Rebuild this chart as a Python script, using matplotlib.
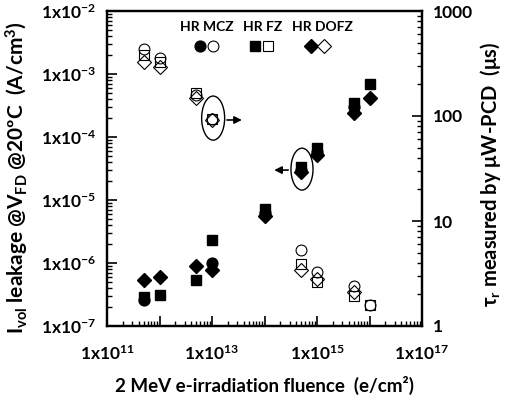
import numpy as np
import matplotlib
matplotlib.use('Agg')
import matplotlib.pyplot as plt
from matplotlib.patches import Ellipse
from matplotlib.ticker import FixedLocator, LogLocator, NullFormatter, FuncFormatter

plt.rcParams['font.family'] = ['Lato', 'DejaVu Sans']
plt.rcParams['font.weight'] = 'bold'
plt.rcParams['mathtext.fontset'] = 'custom'
plt.rcParams['mathtext.rm'] = 'Lato:bold'
plt.rcParams['mathtext.it'] = 'Lato:bold'
plt.rcParams['mathtext.bf'] = 'Lato:bold'

nan = np.nan
fluence = np.array([5e11, 1e12, 5e12, 1e13, 1e14, 5e14, 1e15, 5e15, 1e16])

# leakage current (filled symbols, left axis)
leak_mcz = np.array([2.6e-7, nan, nan, 1.0e-6, 6.2e-6, 3.0e-5, 5.8e-5, 3.0e-4, nan])
leak_fz = np.array([2.9e-7, 3.1e-7, 5.4e-7, 2.3e-6, 7.2e-6, 3.3e-5, 6.7e-5, 3.5e-4, 6.9e-4])
leak_dofz = np.array([5.4e-7, 6.0e-7, 8.9e-7, 7.7e-7, 5.6e-6, 2.8e-5, 5.2e-5, 2.4e-4, 4.2e-4])

# lifetime (open symbols, right axis)
tau_mcz = np.array([435, 357, 158, 94, nan, 5.3, 3.27, 2.4, 1.58])
tau_fz = np.array([381, 327, 166, 94, nan, 3.9, 2.62, 1.93, 1.58])
tau_dofz = np.array([327, 293, 148, 92, nan, 3.4, 2.8, 2.11, nan])

materials = ['HR MCZ', 'HR FZ', 'HR DOFZ']
markers = ['o', 's', 'D']

fig = plt.figure(figsize=(5.14, 4.01), dpi=100)
ax = fig.add_axes([107/514, 1-326/401, 315/514, 315/401])
ax2 = ax.twinx()

ms = 7.8
msd = 7
ax.plot(fluence, leak_mcz, 'o', color='k', ms=ms, zorder=3)
ax.plot(fluence, leak_fz, 's', color='k', ms=ms, zorder=3)
ax.plot(fluence, leak_dofz, 'D', color='k', ms=msd, zorder=3)
ax2.plot(fluence, tau_mcz, 'o', mfc='white', mec='k', mew=0.8, ms=ms, zorder=3)
ax2.plot(fluence, tau_fz, 's', mfc='none', mec='k', mew=0.8, ms=ms, zorder=3)
ax2.plot(fluence, tau_dofz, 'D', mfc='none', mec='k', mew=0.8, ms=msd, zorder=3)

ax.set_xscale('log')
ax.set_yscale('log')
ax2.set_yscale('log')
ax.set_xlim(1e11, 1e17)
ax.set_ylim(1e-7, 1e-2)
ax2.set_ylim(1, 1000)

def xfmt(v, pos):
    e = int(round(np.log10(v)))
    return '1x10$^{%d}$' % e if e % 2 == 1 else ''

def yfmt(v, pos):
    e = int(round(np.log10(v)))
    return '1x10$^{%d}$' % e

ax.xaxis.set_major_locator(FixedLocator([10.0**k for k in range(11, 18)]))
ax.xaxis.set_major_formatter(FuncFormatter(xfmt))
ax.xaxis.set_minor_locator(LogLocator(base=10, subs=np.arange(2, 10), numticks=20))
ax.xaxis.set_minor_formatter(NullFormatter())
ax.yaxis.set_major_locator(FixedLocator([10.0**k for k in range(-7, -1)]))
ax.yaxis.set_major_formatter(FuncFormatter(yfmt))
ax.yaxis.set_minor_locator(LogLocator(base=10, subs=np.arange(2, 10), numticks=20))
ax.yaxis.set_minor_formatter(NullFormatter())
ax2.yaxis.set_major_locator(FixedLocator([1, 10, 100, 1000]))
ax2.yaxis.set_major_formatter(FuncFormatter(lambda v, p: '%d' % v))
ax2.yaxis.set_minor_locator(LogLocator(base=10, subs=np.arange(2, 10), numticks=20))
ax2.yaxis.set_minor_formatter(NullFormatter())

for a in (ax, ax2):
    for s in a.spines.values():
        s.set_linewidth(1.6)
ax.tick_params(axis='both', which='major', direction='in', length=7, width=1.2,
               labelsize=12.5, top=False, right=False, pad=8)
ax.tick_params(axis='x', which='major', pad=13)
ax.tick_params(axis='both', which='minor', direction='in', length=3.5, width=1.0,
               top=False, right=False)
ax2.tick_params(axis='y', which='major', direction='in', length=7, width=1.2,
                labelsize=12.5, pad=8)
ax2.tick_params(axis='y', which='minor', direction='in', length=3.5, width=1.0)

ax.set_xlabel('2 MeV e-irradiation fluence  (e/cm²)', fontsize=13.5, fontweight='bold')
ax.xaxis.set_label_coords(0.5, -0.158)
ax.set_ylabel('I$_{vol}$ leakage @V$_{FD}$ @20ºC  (A/cm$^{3}$)', fontsize=15,
              fontweight='bold')
ax.yaxis.set_label_coords(-0.242, 0.47)
ax2.set_ylabel(r'$\tau_r$ measured by $\mu$W-PCD  ($\mu$s)', fontsize=14.5,
               fontweight='bold')
ax2.yaxis.set_label_coords(1.178, 0.48)

# material legend
for name, tx in zip(materials, [0.317, 0.495, 0.683]):
    ax.text(tx, 0.949, name, transform=ax.transAxes, ha='center', va='center',
            fontsize=10, fontweight='bold')
for m, mx in zip(markers, [0.295, 0.470, 0.648]):
    size = msd if m == 'D' else ms
    ax.plot(mx, 0.889, m, color='k', ms=size,
            transform=ax.transAxes, clip_on=False)
    ax.plot(mx + 0.042, 0.889, m, mfc='white', mec='k', mew=0.8,
            ms=size, transform=ax.transAxes, clip_on=False)

# ellipses with arrows pointing to the relevant axis
ax.add_patch(Ellipse((0.337, 0.660), 0.073, 0.14, transform=ax.transAxes,
                     fill=False, ec='k', lw=1.0, zorder=4))
ax.annotate('', xy=(0.437, 0.654), xytext=(0.372, 0.654), xycoords='axes fraction',
            arrowprops=dict(arrowstyle='-|>', color='k', lw=1.2, mutation_scale=11))
ax.add_patch(Ellipse((0.619, 0.498), 0.07, 0.133, transform=ax.transAxes,
                     fill=False, ec='k', lw=1.0, zorder=4))
ax.annotate('', xy=(0.522, 0.495), xytext=(0.584, 0.495), xycoords='axes fraction',
            arrowprops=dict(arrowstyle='-|>', color='k', lw=1.2, mutation_scale=11))

fig.savefig('out.png', dpi=100)
